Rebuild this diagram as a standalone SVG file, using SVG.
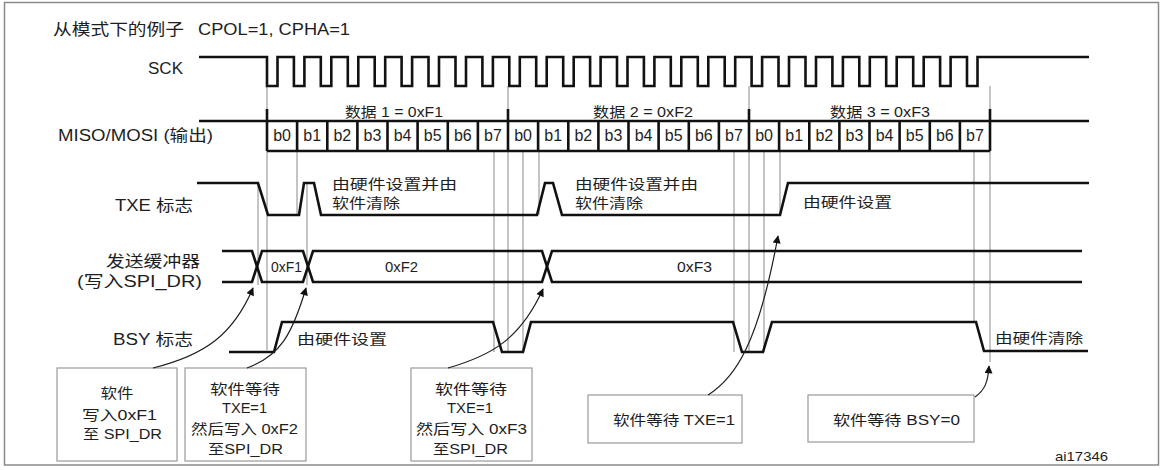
<svg xmlns="http://www.w3.org/2000/svg" width="1168" height="470" viewBox="0 0 1168 470">
<style>
text{font-family:"Liberation Sans","Noto Sans CJK SC",sans-serif;fill:#1e1e1e;}
.sig{fill:none;stroke:#111;stroke-width:2.6;stroke-linejoin:miter;}
.guide{fill:none;stroke:#8a8a8a;stroke-width:1;}
.box{fill:#fff;stroke:#9a9a9a;stroke-width:1.2;}
.arr{fill:none;stroke:#1e1e1e;stroke-width:1.2;marker-end:url(#ah);}
.lbl{font-size:16px;}
.ann{font-size:14px;}
.ttl{font-size:16px;}
.bit{font-size:16px;text-anchor:middle;}
.bx{font-size:14px;text-anchor:middle;}
</style>
<defs>
<marker id="ah" viewBox="0 0 10 10" refX="9" refY="5" markerWidth="9" markerHeight="8" markerUnits="userSpaceOnUse" orient="auto">
<path d="M0,0 L10,5 L0,10 z" fill="#111"/>
</marker>
</defs>
<rect x="0" y="0" width="1168" height="470" fill="#fff"/>
<rect x="4.5" y="2.5" width="1154" height="462.5" fill="none" stroke="#8a8a8a" stroke-width="1.5"/>

<g id="title">
<text class="ttl" x="53" y="35" textLength="131" lengthAdjust="spacingAndGlyphs">从模式下的例子</text>
<text class="ttl" x="198" y="35" textLength="152" lengthAdjust="spacingAndGlyphs">CPOL=1, CPHA=1</text>
</g>

<g id="guides">
<path class="guide" d="M267,86V350 M508,86V352 M749,86V352 M990,86V362 M258,183V285 M297,151V215 M307,183V285 M494,151V352 M523,151V352 M539,151V215 M734,151V352 M764,151V352 M780,151V215 M974,151V322"/>
</g>

<g id="sck">
<text class="lbl" x="148" y="74" textLength="35" lengthAdjust="spacingAndGlyphs">SCK</text>
<path class="sig" d="M199,57H267V86H277.5V57H293.9V86H304.4V57H320.8V86H331.3V57H347.8V86H358.3V57H374.7V86H385.2V57H401.6V86H412.1V57H428.5V86H439V57H455.5V86H466V57H482.4V86H492.9V57H509.3V86H519.8V57H536.2V86H546.7V57H563.2V86H573.7V57H590.1V86H600.6V57H617V86H627.5V57H643.9V86H654.4V57H670.8V86H681.3V57H697.8V86H708.3V57H724.7V86H735.2V57H751.6V86H762.1V57H778.5V86H789V57H805.5V86H816V57H832.4V86H842.9V57H859.3V86H869.8V57H886.2V86H896.7V57H913.2V86H923.7V57H940.1V86H950.6V57H967V86H977.5V57H1089"/>
</g>

<g id="miso">
<text class="lbl" x="58" y="141" textLength="155" lengthAdjust="spacingAndGlyphs">MISO/MOSI (输出)</text>
<text class="ann" x="345" y="117" textLength="98" lengthAdjust="spacingAndGlyphs">数据 1 = 0xF1</text>
<text class="ann" x="593" y="117" textLength="100" lengthAdjust="spacingAndGlyphs">数据 2 = 0xF2</text>
<text class="ann" x="830" y="117" textLength="100" lengthAdjust="spacingAndGlyphs">数据 3 = 0xF3</text>
<path class="sig" d="M199,121H1089 M267,151H990 M267,109V151 M508,109V151 M749,109V151 M990,109V151 M297.1,121V151 M327.3,121V151 M357.4,121V151 M387.5,121V151 M417.6,121V151 M447.8,121V151 M477.9,121V151 M538.1,121V151 M568.3,121V151 M598.4,121V151 M628.5,121V151 M658.6,121V151 M688.8,121V151 M718.9,121V151 M779.1,121V151 M809.3,121V151 M839.4,121V151 M869.5,121V151 M899.6,121V151 M929.8,121V151 M959.9,121V151"/>
<text class="bit" x="282.1" y="141">b0</text><text class="bit" x="312.2" y="141">b1</text><text class="bit" x="342.3" y="141">b2</text><text class="bit" x="372.4" y="141">b3</text><text class="bit" x="402.6" y="141">b4</text><text class="bit" x="432.7" y="141">b5</text><text class="bit" x="462.8" y="141">b6</text><text class="bit" x="492.9" y="141">b7</text>
<text class="bit" x="523.1" y="141">b0</text><text class="bit" x="553.2" y="141">b1</text><text class="bit" x="583.3" y="141">b2</text><text class="bit" x="613.4" y="141">b3</text><text class="bit" x="643.6" y="141">b4</text><text class="bit" x="673.7" y="141">b5</text><text class="bit" x="703.8" y="141">b6</text><text class="bit" x="733.9" y="141">b7</text>
<text class="bit" x="764.1" y="141">b0</text><text class="bit" x="794.2" y="141">b1</text><text class="bit" x="824.3" y="141">b2</text><text class="bit" x="854.4" y="141">b3</text><text class="bit" x="884.6" y="141">b4</text><text class="bit" x="914.7" y="141">b5</text><text class="bit" x="944.8" y="141">b6</text><text class="bit" x="974.9" y="141">b7</text>
</g>

<g id="txe">
<text class="lbl" x="115" y="211" textLength="78" lengthAdjust="spacingAndGlyphs">TXE 标志</text>
<path class="sig" d="M197,183H258L268,215H299L304,183H314L321,215H537L545,183H553L562,215H780L788,183H1089"/>
<text class="ann" x="332" y="189" textLength="125" lengthAdjust="spacingAndGlyphs">由硬件设置并由</text>
<text class="ann" x="332" y="208" textLength="68" lengthAdjust="spacingAndGlyphs">软件清除</text>
<text class="ann" x="575" y="189" textLength="123" lengthAdjust="spacingAndGlyphs">由硬件设置并由</text>
<text class="ann" x="575" y="208" textLength="68" lengthAdjust="spacingAndGlyphs">软件清除</text>
<text class="ann" x="803" y="207" textLength="89" lengthAdjust="spacingAndGlyphs">由硬件设置</text>
</g>

<g id="buffer">
<text class="lbl" x="106" y="267" textLength="94" lengthAdjust="spacingAndGlyphs">发送缓冲器</text>
<text class="lbl" x="77" y="287" textLength="125" lengthAdjust="spacingAndGlyphs">(写入SPI_DR)</text>
<path class="sig" d="M222,251H252L262,282H303L313,251H542L552,282H1082"/>
<path class="sig" d="M222,282H252L262,251H303L313,282H542L552,251H1082"/>
<text class="ann" x="271" y="272" textLength="31" lengthAdjust="spacingAndGlyphs">0xF1</text>
<text class="ann" x="385" y="272" textLength="33" lengthAdjust="spacingAndGlyphs">0xF2</text>
<text class="ann" x="677" y="272" textLength="35" lengthAdjust="spacingAndGlyphs">0xF3</text>
</g>

<g id="bsy">
<text class="lbl" x="113" y="345" textLength="80" lengthAdjust="spacingAndGlyphs">BSY 标志</text>
<path class="sig" d="M229,352H274L282,322H493L502,352H523L531,322H733L742,352H763L772,322H976L984,351H1088"/>
<text class="ann" x="297" y="344" textLength="90" lengthAdjust="spacingAndGlyphs">由硬件设置</text>
<text class="ann" x="995" y="343" textLength="88" lengthAdjust="spacingAndGlyphs">由硬件清除</text>
</g>

<g id="box1">
<rect class="box" x="57" y="368" width="120" height="93"/>
<text class="bx" x="117" y="398" textLength="33" lengthAdjust="spacingAndGlyphs">软件</text>
<text class="bx" x="119.5" y="420" textLength="75" lengthAdjust="spacingAndGlyphs">写入0xF1</text>
<text class="bx" x="122.5" y="439" textLength="79" lengthAdjust="spacingAndGlyphs">至 SPI_DR</text>
</g>

<g id="box2">
<rect class="box" x="185" y="368" width="121" height="93"/>
<text class="bx" x="245" y="394" textLength="70" lengthAdjust="spacingAndGlyphs">软件等待</text>
<text class="bx" x="244.5" y="413" textLength="45" lengthAdjust="spacingAndGlyphs">TXE=1</text>
<text class="bx" x="244.5" y="434" textLength="107" lengthAdjust="spacingAndGlyphs">然后写入 0xF2</text>
<text class="bx" x="245.5" y="454" textLength="75" lengthAdjust="spacingAndGlyphs">至SPI_DR</text>
</g>

<g id="box3">
<rect class="box" x="411" y="368" width="121" height="93"/>
<text class="bx" x="471" y="394" textLength="72" lengthAdjust="spacingAndGlyphs">软件等待</text>
<text class="bx" x="470" y="413" textLength="46" lengthAdjust="spacingAndGlyphs">TXE=1</text>
<text class="bx" x="471.5" y="434" textLength="111" lengthAdjust="spacingAndGlyphs">然后写入 0xF3</text>
<text class="bx" x="470.5" y="454" textLength="75" lengthAdjust="spacingAndGlyphs">至SPI_DR</text>
</g>

<g id="box4">
<rect class="box" x="588" y="395" width="154" height="48"/>
<text class="bx" x="674" y="425" textLength="122" lengthAdjust="spacingAndGlyphs">软件等待 TXE=1</text>
</g>

<g id="box5">
<rect class="box" x="808" y="395" width="166" height="47"/>
<text class="bx" x="896.5" y="425" textLength="127" lengthAdjust="spacingAndGlyphs">软件等待 BSY=0</text>
</g>

<g id="ref">
<text x="1055" y="461" font-size="13" textLength="53" lengthAdjust="spacingAndGlyphs">ai17346</text>
</g>

<g id="connectors">
<path class="arr" d="M153,368 C205,355 233,335 253,288"/>
<path class="arr" d="M247,368 C280,356 292,335 306,288"/>
<path class="arr" d="M448,368 C490,356 520,340 543,289"/>
<path class="arr" d="M708,395 C735,378 758,345 778,236"/>
<path class="arr" d="M975,397 C985,390 988,382 989,366"/>
</g>
</svg>
